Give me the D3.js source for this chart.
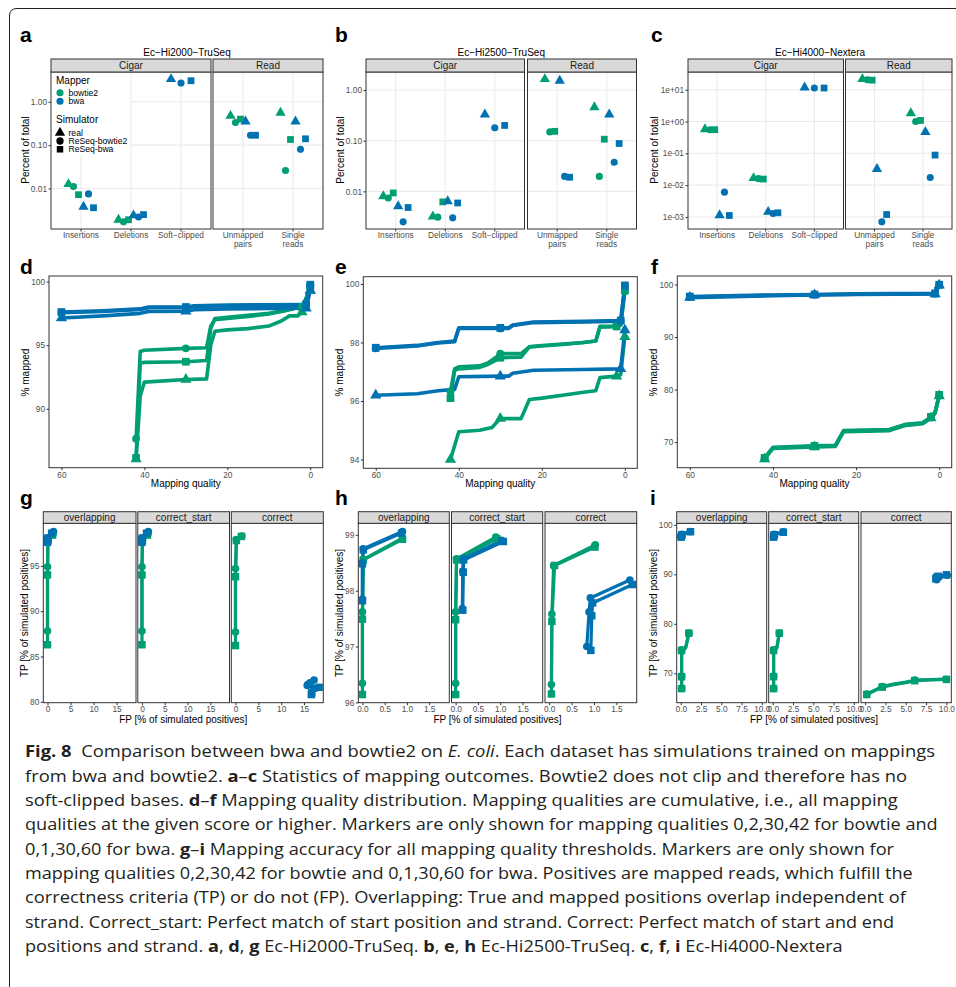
<!DOCTYPE html>
<html><head><meta charset="utf-8">
<script src="https://cdn.jsdelivr.net/npm/d3@7"></script>
<style>
body{margin:0;background:#fff}
svg text{font-family:"Liberation Sans",Arial,sans-serif}
</style>
</head><body>
<svg id="c" width="956" height="987"></svg>
<script>
// ---------------- DATA ----------------
const mappers = ["bowtie2", "bwa"];
const simulators = ["real", "ReSeq-bowtie2", "ReSeq-bwa"];
const cigarCategories = ["Insertions", "Deletions", "Soft\u2212clipped"];
const readCategories = ["Unmapped\npairs", "Single\nreads"];
const datasetTitles = ["Ec\u2212Hi2000\u2212TruSeq", "Ec\u2212Hi2500\u2212TruSeq", "Ec\u2212Hi4000\u2212Nextera"];

// rows: Insertions, Deletions, Soft-clipped, Unmapped pairs, Single reads
// cols: bowtie2/real, bowtie2/ReSeq-bowtie2, bowtie2/ReSeq-bwa, bwa/real, bwa/ReSeq-bowtie2, bwa/ReSeq-bwa
const statsHi2000 = [
  [0.0126, 0.0111, 0.0072, 0.0038, 0.0075, 0.0036],
  [0.0019, 0.0017, 0.0019, 0.0024, 0.0022, 0.0025],
  [null, null, null, 3.33, 2.7, 3.06],
  [0.473, 0.333, 0.398, 0.351, 0.169, 0.169],
  [0.56, 0.026, 0.135, 0.351, 0.08, 0.14]
];
const statsHi2500 = [
  [0.0080, 0.0074, 0.0093, 0.0051, 0.0025, 0.0048],
  [0.0032, 0.0031, 0.0062, 0.0064, 0.0030, 0.0059],
  [null, null, null, 0.33, 0.18, 0.20],
  [1.64, 0.149, 0.153, 1.52, 0.0197, 0.019],
  [0.457, 0.0197, 0.107, 0.33, 0.0375, 0.088]
];
const statsHi4000 = [
  [0.57, 0.55, 0.555, 0.00113, 0.006, 0.00111],
  [0.0166, 0.016, 0.0155, 0.00144, 0.00128, 0.00135],
  [null, null, null, 11.8, 11.3, 11.3],
  [21.5, 20.5, 20.0, 0.032, 0.0007, 0.00119],
  [1.83, 1.0, 1.08, 0.47, 0.0174, 0.088]
];
const statsTicksTruSeq = [0.01, 0.1, 1];
const statsTickLabelsTruSeq = ["0.01", "0.10", "1.00"];
const statsTicksNextera = [0.001, 0.01, 0.1, 1, 10];
const statsTickLabelsNextera = ["1e-03", "1e-02", "1e-01", "1e+00", "1e+01"];

// mapping quality distributions: [mapping quality, % mapped]
const mapqHi2000 = [
  {mapper: "bowtie2", sim: "real", pts: [[42,86.06],[41,91.0],[40,92.1],[30,92.3],[25,92.35],[24,95.0],[23,96.1],[20,96.2],[15,96.3],[10,96.5],[7,96.9],[5,97.3],[3,97.3],[2,97.6],[1,98.3],[0,99.3]]},
  {mapper: "bowtie2", sim: "ReSeq-bowtie2", pts: [[42,87.65],[41,94.5],[40,94.6],[30,94.75],[25,94.8],[24,96.5],[23,97.0],[20,97.1],[15,97.25],[10,97.45],[6,97.7],[3,97.95],[2,98.0],[1,98.6],[0,99.5]]},
  {mapper: "bowtie2", sim: "ReSeq-bwa", pts: [[42,86.14],[41,93.6],[40,93.65],[30,93.7],[25,93.8],[24,96.3],[23,97.1],[20,97.2],[15,97.35],[10,97.5],[6,97.75],[3,97.95],[2,98.0],[1,98.7],[0,99.6]]},
  {mapper: "bwa", sim: "real", pts: [[60,97.14],[50,97.3],[41,97.5],[39,97.65],[30,97.66],[28,97.78],[20,97.85],[10,97.88],[2,97.9],[1,97.9],[0,99.3]]},
  {mapper: "bwa", sim: "ReSeq-bowtie2", pts: [[60,97.55],[50,97.65],[41,97.8],[39,97.95],[30,97.95],[28,98.05],[20,98.1],[10,98.13],[2,98.15],[1,98.15],[0,99.7]]},
  {mapper: "bwa", sim: "ReSeq-bwa", pts: [[60,97.6],[50,97.7],[41,97.85],[39,98.0],[30,98.0],[28,98.1],[20,98.15],[10,98.18],[2,98.2],[1,98.2],[0,99.75]]}
];
const mapqHi2500 = [
  {mapper: "bowtie2", sim: "real", pts: [[42,94.0],[40,94.95],[35,95.0],[32,95.1],[30,95.4],[25,95.4],[23,96.05],[20,96.1],[15,96.2],[10,96.3],[7,96.35],[6,96.8],[2,96.85],[1,96.9],[0,98.2]]},
  {mapper: "bowtie2", sim: "ReSeq-bowtie2", pts: [[42,96.33],[41,97.1],[40,97.17],[35,97.2],[33,97.3],[31,97.5],[30,97.62],[25,97.62],[23,97.85],[20,97.9],[15,97.95],[10,98.0],[7,98.05],[6,98.55],[2,98.55],[1,98.6],[0,99.75]]},
  {mapper: "bowtie2", sim: "ReSeq-bwa", pts: [[42,96.1],[41,97.05],[40,97.1],[35,97.15],[33,97.25],[31,97.4],[30,97.48],[25,97.5],[23,97.85],[20,97.88],[15,97.93],[10,98.0],[7,98.05],[6,98.52],[2,98.55],[1,98.6],[0,99.78]]},
  {mapper: "bwa", sim: "real", pts: [[60,96.2],[50,96.25],[45,96.35],[41,96.4],[40,96.83],[30,96.85],[28,96.85],[27,96.95],[22,97.05],[10,97.08],[1,97.1],[0,98.43]]},
  {mapper: "bwa", sim: "ReSeq-bowtie2", pts: [[60,97.8],[50,97.88],[45,97.98],[41,98.03],[40,98.48],[30,98.48],[28,98.48],[27,98.58],[22,98.68],[10,98.7],[1,98.73],[0,99.93]]},
  {mapper: "bwa", sim: "ReSeq-bwa", pts: [[60,97.82],[50,97.9],[45,98.0],[41,98.05],[40,98.5],[30,98.5],[28,98.5],[27,98.6],[22,98.7],[10,98.72],[1,98.75],[0,99.95]]}
];
const mapqHi4000 = [
  {mapper: "bowtie2", sim: "real", pts: [[42,66.8],[40,68.8],[30,69.1],[25,69.2],[23,72.0],[12,72.2],[8,73.2],[4,73.5],[2,74.6],[1,75.5],[0,78.8]]},
  {mapper: "bowtie2", sim: "ReSeq-bowtie2", pts: [[42,66.9],[40,68.9],[30,69.2],[25,69.3],[23,72.1],[12,72.3],[8,73.3],[4,73.6],[2,74.7],[1,75.6],[0,78.9]]},
  {mapper: "bowtie2", sim: "ReSeq-bwa", pts: [[42,67.0],[40,69.0],[30,69.3],[25,69.4],[23,72.2],[12,72.4],[8,73.4],[4,73.7],[2,74.8],[1,75.7],[0,79.0]]},
  {mapper: "bwa", sim: "real", pts: [[60,97.5],[40,97.85],[30,98.0],[20,98.1],[1,98.2],[0,99.85]]},
  {mapper: "bwa", sim: "ReSeq-bowtie2", pts: [[60,97.6],[40,97.95],[30,98.05],[20,98.15],[1,98.25],[0,99.9]]},
  {mapper: "bwa", sim: "ReSeq-bwa", pts: [[60,97.7],[40,98.0],[30,98.1],[20,98.2],[1,98.3],[0,99.95]]}
];
const mapqXTicks = [60, 40, 20, 0];
const mapqYTicksHi2000 = [90, 95, 100];
const mapqYTicksHi2500 = [94, 96, 98, 100];
const mapqYTicksHi4000 = [70, 80, 90, 100];

// accuracy: [mapping quality threshold, FP %, TP %]
const accFacets = ["overlapping", "correct_start", "correct"];
const accHi2000Overlapping = [
  {mapper: "bowtie2", sim: "ReSeq-bowtie2", pts: [[42,0.0,87.8],[30,0.0,94.9],[2,0.1,97.9],[0,1.2,98.5]]},
  {mapper: "bowtie2", sim: "ReSeq-bwa", pts: [[42,0.0,86.3],[30,0.0,94.0],[2,0.1,97.8],[0,1.1,98.4]]},
  {mapper: "bwa", sim: "ReSeq-bowtie2", pts: [[60,0.0,97.9],[30,0.0,98.0],[1,0.05,98.1],[0,1.3,98.8]]},
  {mapper: "bwa", sim: "ReSeq-bwa", pts: [[60,0.0,97.6],[30,0.0,97.9],[1,0.05,98.05],[0,0.9,98.6]]}
];
const accHi2000CorrectStart = [
  {mapper: "bowtie2", sim: "ReSeq-bowtie2", pts: [[42,0.0,87.8],[30,0.0,94.9],[2,0.1,97.9],[0,1.3,98.5]]},
  {mapper: "bowtie2", sim: "ReSeq-bwa", pts: [[42,0.0,86.3],[30,0.0,94.0],[2,0.1,97.8],[0,1.2,98.4]]},
  {mapper: "bwa", sim: "ReSeq-bowtie2", pts: [[60,0.0,97.9],[30,0.0,98.0],[1,0.05,98.1],[0,1.4,98.8]]},
  {mapper: "bwa", sim: "ReSeq-bwa", pts: [[60,0.0,97.6],[30,0.0,97.9],[1,0.05,98.05],[0,1.0,98.6]]}
];
const accHi2000Correct = [
  {mapper: "bowtie2", sim: "ReSeq-bowtie2", pts: [[42,0.0,87.7],[30,0.0,94.7],[2,0.2,97.9],[0,1.4,98.3]]},
  {mapper: "bowtie2", sim: "ReSeq-bwa", pts: [[42,0.0,86.2],[30,0.0,93.8],[2,0.2,97.8],[0,1.3,98.25]]},
  {mapper: "bwa", sim: "ReSeq-bowtie2", pts: [[60,15.7,81.8],[30,15.8,81.9],[1,16.3,82.1],[0,17.2,82.4]]},
  {mapper: "bwa", sim: "ReSeq-bwa", pts: [[60,16.6,80.8],[30,16.7,81.0],[1,17.1,81.5],[0,18.3,81.6]]}
];
const accHi2500Overlapping = [
  {mapper: "bowtie2", sim: "ReSeq-bowtie2", pts: [[42,0.0,96.34],[30,0.0,97.62],[2,0.02,98.56],[0,0.9,98.94]]},
  {mapper: "bowtie2", sim: "ReSeq-bwa", pts: [[42,0.0,96.14],[30,0.0,97.49],[2,0.02,98.55],[0,0.9,98.92]]},
  {mapper: "bwa", sim: "ReSeq-bowtie2", pts: [[60,0.0,97.85],[30,0.0,98.5],[1,0.02,98.75],[0,0.9,99.06]]},
  {mapper: "bwa", sim: "ReSeq-bwa", pts: [[60,0.0,97.82],[30,0.0,98.48],[1,0.02,98.73],[0,0.88,99.03]]}
];
const accHi2500CorrectStart = [
  {mapper: "bowtie2", sim: "ReSeq-bowtie2", pts: [[42,0.0,96.34],[30,0.0,97.62],[2,0.02,98.57],[0,0.9,98.96]]},
  {mapper: "bowtie2", sim: "ReSeq-bwa", pts: [[42,0.0,96.14],[30,0.0,97.48],[2,0.02,98.55],[0,0.92,98.93]]},
  {mapper: "bwa", sim: "ReSeq-bowtie2", pts: [[60,0.15,97.68],[30,0.16,98.35],[1,0.17,98.57],[0,1.03,98.9]]},
  {mapper: "bwa", sim: "ReSeq-bwa", pts: [[60,0.16,97.65],[30,0.17,98.33],[1,0.18,98.55],[0,1.07,98.88]]}
];
const accHi2500Correct = [
  {mapper: "bowtie2", sim: "ReSeq-bowtie2", pts: [[42,0.05,96.32],[30,0.06,97.58],[2,0.1,98.45],[0,1.03,98.82]]},
  {mapper: "bowtie2", sim: "ReSeq-bwa", pts: [[42,0.05,96.15],[30,0.06,97.45],[2,0.12,98.45],[0,1.02,98.78]]},
  {mapper: "bwa", sim: "ReSeq-bowtie2", pts: [[60,0.84,97.0],[30,0.89,97.62],[1,0.92,97.87],[0,1.8,98.19]]},
  {mapper: "bwa", sim: "ReSeq-bwa", pts: [[60,0.93,96.93],[30,0.95,97.55],[1,0.97,97.78],[0,1.86,98.11]]}
];
const accHi4000Overlapping = [
  {mapper: "bowtie2", sim: "ReSeq-bowtie2", pts: [[42,0.1,66.95],[30,0.1,69.45],[2,0.1,74.73],[1,0.6,75.2],[0,1.0,78.13]]},
  {mapper: "bowtie2", sim: "ReSeq-bwa", pts: [[42,0.1,66.9],[30,0.1,69.3],[2,0.1,74.6],[1,0.6,75.1],[0,1.0,78.1]]},
  {mapper: "bwa", sim: "ReSeq-bowtie2", pts: [[60,0.0,97.64],[30,0.1,98.0],[1,0.15,98.1],[0,1.15,98.66]]},
  {mapper: "bwa", sim: "ReSeq-bwa", pts: [[60,0.05,97.5],[30,0.1,97.9],[1,0.15,98.0],[0,1.2,98.6]]}
];
const accHi4000CorrectStart = [
  {mapper: "bowtie2", sim: "ReSeq-bowtie2", pts: [[42,0.1,66.95],[30,0.1,69.45],[2,0.1,74.73],[1,0.5,75.2],[0,0.81,78.13]]},
  {mapper: "bowtie2", sim: "ReSeq-bwa", pts: [[42,0.1,66.9],[30,0.1,69.3],[2,0.1,74.6],[1,0.5,75.1],[0,0.81,78.1]]},
  {mapper: "bwa", sim: "ReSeq-bowtie2", pts: [[60,0.1,97.64],[30,0.15,98.0],[1,0.2,98.1],[0,1.3,98.6]]},
  {mapper: "bwa", sim: "ReSeq-bwa", pts: [[60,0.1,97.5],[30,0.15,97.9],[1,0.2,98.0],[0,1.3,98.5]]}
];
const accHi4000Correct = [
  {mapper: "bowtie2", sim: "ReSeq-bowtie2", pts: [[42,0.2,65.8],[30,2.1,67.3],[20,3.5,67.8],[10,5.0,68.2],[2,6.1,68.6],[1,8.0,68.7],[0,10.0,68.8]]},
  {mapper: "bowtie2", sim: "ReSeq-bwa", pts: [[42,0.2,65.7],[30,2.1,67.2],[20,3.5,67.7],[10,5.0,68.1],[2,6.1,68.5],[1,8.0,68.65],[0,10.0,68.75]]},
  {mapper: "bwa", sim: "ReSeq-bowtie2", pts: [[60,8.8,88.9],[30,8.9,89.3],[1,9.1,89.5],[0,10.1,89.8]]},
  {mapper: "bwa", sim: "ReSeq-bwa", pts: [[60,8.7,89.1],[30,8.8,89.4],[1,9.0,89.6],[0,10.0,89.9]]}
];
const accXTicksHi2000 = [0, 5, 10, 15];
const accXTicksHi2500 = [0, 0.5, 1.0, 1.5];
const accXTicksHi4000 = [0, 2.5, 5, 7.5, 10];
const accYTicksHi2000 = [80, 85, 90, 95];
const accYTicksHi2500 = [96, 97, 98, 99];
const accYTicksHi4000 = [70, 80, 90, 100];

const markerQ = {bowtie2: [0, 2, 30, 42], bwa: [0, 1, 30, 60]};

const captionLines = [
  "**Fig. 8**  Comparison between bwa and bowtie2 on //E. coli//. Each dataset has simulations trained on mappings",
  "from bwa and bowtie2. **a**\u2013**c** Statistics of mapping outcomes. Bowtie2 does not clip and therefore has no",
  "soft-clipped bases. **d**\u2013**f** Mapping quality distribution. Mapping qualities are cumulative, i.e., all mapping",
  "qualities at the given score or higher. Markers are only shown for mapping qualities 0,2,30,42 for bowtie and",
  "0,1,30,60 for bwa. **g**\u2013**i** Mapping accuracy for all mapping quality thresholds. Markers are only shown for",
  "mapping qualities 0,2,30,42 for bowtie and 0,1,30,60 for bwa. Positives are mapped reads, which fulfill the",
  "correctness criteria (TP) or do not (FP). Overlapping: True and mapped positions overlap independent of",
  "strand. Correct_start: Perfect match of start position and strand. Correct: Perfect match of start and end",
  "positions and strand. **a**, **d**, **g** Ec-Hi2000-TruSeq. **b**, **e**, **h** Ec-Hi2500-TruSeq. **c**, **f**, **i** Ec-Hi4000-Nextera"
];

// ---------------- STYLE ----------------
const colorOf = {bowtie2: "#009E73", bwa: "#0072B2"};
const shapeOf = {"real": d3.symbolTriangle, "ReSeq-bowtie2": d3.symbolCircle, "ReSeq-bwa": d3.symbolSquare};
const FONT = "'Liberation Sans', Arial, sans-serif";
const BORDER = "#333333", STRIP = "#D9D9D9", GRID = "#EBEBEB", TICKTXT = "#4D4D4D";
const TITLE_SIZE = 10, TICK_SIZE = 8.3;

const svg = d3.select("#c");
svg.append("rect").attr("width", 956).attr("height", 987).attr("fill", "#fff");
svg.append("path").attr("d", "M9.5,987 L9.5,16 Q9.5,8.5 17,8.5 L956,8.5")
  .attr("fill", "none").attr("stroke", "#231f20").attr("stroke-width", 1);

function txt(g, x, y, s, o = {}) {
  const t = g.append("text").attr("x", x).attr("y", y).text(s)
    .attr("font-size", o.size || TICK_SIZE).attr("fill", o.fill || "#000")
    .attr("text-anchor", o.anchor || "middle").attr("font-family", FONT);
  if (o.rotate) t.attr("transform", `rotate(-90,${x},${y})`);
  if (o.weight) t.attr("font-weight", o.weight);
  return t;
}
function styleAxis(ax) {
  ax.attr("font-family", FONT);
  ax.select(".domain").remove();
  ax.selectAll(".tick line").attr("stroke", BORDER);
  ax.selectAll(".tick text").attr("fill", TICKTXT).attr("font-size", TICK_SIZE);
}
function sym(sim, size) { return d3.symbol().type(shapeOf[sim]).size(size)(); }

// panel letters
[["a",20,42],["b",335,42],["c",651,42],["d",20,274],["e",335,274],["f",651,274],["g",20,505],["h",335,505],["i",650,505]]
  .forEach(([l,x,y]) => txt(svg, x, y, l, {size: 21, weight: "bold", anchor: "start"}));

// ---------------- ROW 1: statistics ----------------
function statsPanel(cfg) {
  const g = svg.append("g");
  const stripTop = 59, y0 = 72, y1 = 229;
  const logs = cfg.data.flat().filter(v => v != null).map(Math.log10);
  const [lo, hi] = d3.extent(logs), pad = (hi - lo) * 0.05;
  const y = d3.scaleLog().domain([10 ** (lo - pad), 10 ** (hi + pad)]).range([y1, y0]);
  const facets = [
    {name: "Cigar", cats: cigarCategories, range: cfg.cigar, rows: cfg.data.slice(0, 3)},
    {name: "Read", cats: readCategories, range: cfg.read, rows: cfg.data.slice(3)}
  ];
  const combos = [];
  mappers.forEach(m => simulators.forEach(s => combos.push({m, s})));
  facets.forEach(f => {
    const x = d3.scaleLinear().domain([0.4, f.cats.length + 0.6]).range(f.range);
    const [xa, xb] = f.range;
    g.append("rect").attr("x", xa).attr("y", y0).attr("width", xb - xa).attr("height", y1 - y0).attr("fill", "#fff");
    cfg.ticks.forEach(t => g.append("line").attr("x1", xa).attr("x2", xb).attr("y1", y(t)).attr("y2", y(t))
      .attr("stroke", GRID).attr("stroke-width", 1.1));
    f.cats.forEach((c, i) => g.append("line").attr("x1", x(i + 1)).attr("x2", x(i + 1)).attr("y1", y0).attr("y2", y1)
      .attr("stroke", GRID).attr("stroke-width", 1.1));
    if (cfg.legend && f.name === "Cigar") drawLegend(g);
    f.rows.forEach((row, i) => {
      const present = row.map((v, k) => ({v, k})).filter(d => d.v != null);
      const n = present.length, w = 0.6 / n;
      present.forEach((d, j) => {
        const c = combos[d.k];
        const cx = x(i + 1 + (j - (n - 1) / 2) * w), cy = y(d.v);
        const size = c.s === "real" ? 46 : (c.s === "ReSeq-bwa" ? 46 : 40);
        g.append("path").attr("d", sym(c.s, size)).attr("transform", `translate(${cx},${cy})`).attr("fill", colorOf[c.m]);
      });
    });
    g.append("rect").attr("x", xa).attr("y", y0).attr("width", xb - xa).attr("height", y1 - y0)
      .attr("fill", "none").attr("stroke", BORDER).attr("stroke-width", 1);
    g.append("rect").attr("x", xa).attr("y", stripTop).attr("width", xb - xa).attr("height", y0 - stripTop)
      .attr("fill", STRIP).attr("stroke", BORDER).attr("stroke-width", 1);
    txt(g, (xa + xb) / 2, 69.3, f.name, {size: TITLE_SIZE, fill: "#1A1A1A"});
    f.cats.forEach((c, i) => {
      c.split("\n").forEach((line, li) => txt(g, x(i + 1), 238.3 + li * 9, line, {size: TICK_SIZE, fill: TICKTXT}));
      g.append("line").attr("x1", x(i + 1)).attr("x2", x(i + 1)).attr("y1", y1).attr("y2", y1 + 2.5).attr("stroke", BORDER);
    });
  });
  const ax = g.append("g").attr("transform", `translate(${cfg.cigar[0]},0)`)
    .call(d3.axisLeft(y).tickValues(cfg.ticks).tickFormat((d, i) => cfg.tickLabels[i]).tickSize(2.5).tickPadding(1.5));
  styleAxis(ax);
  txt(g, (cfg.cigar[0] + cfg.read[1]) / 2, 55.5, cfg.title, {size: TITLE_SIZE});
  txt(g, cfg.yTitleX, 150, "Percent of total", {size: TITLE_SIZE, rotate: true});
}
function drawLegend(g) {
  g.append("rect").attr("x", 52).attr("y", 73).attr("width", 78).attr("height", 82).attr("fill", "#fff");
  txt(g, 56, 84, "Mapper", {size: TITLE_SIZE, anchor: "start"});
  mappers.forEach((m, i) => {
    g.append("path").attr("d", sym("ReSeq-bowtie2", 40)).attr("transform", `translate(60,${92.7 + i * 8.6})`).attr("fill", colorOf[m]);
    txt(g, 68.5, 95.8 + i * 8.6, m, {size: 8.6, anchor: "start"});
  });
  txt(g, 56, 123, "Simulator", {size: TITLE_SIZE, anchor: "start"});
  simulators.forEach((s, i) => {
    g.append("path").attr("d", sym(s, s === "real" ? 46 : 42)).attr("transform", `translate(60,${132.7 + i * 8.3})`).attr("fill", "#000");
    txt(g, 68.5, 135.8 + i * 8.3, s, {size: 8.6, anchor: "start"});
  });
}
statsPanel({title: datasetTitles[0], data: statsHi2000, cigar: [51, 211], read: [213, 323], ticks: statsTicksTruSeq, tickLabels: statsTickLabelsTruSeq, yTitleX: 29, legend: true});
statsPanel({title: datasetTitles[1], data: statsHi2500, cigar: [366, 524.5], read: [527.5, 636.5], ticks: statsTicksTruSeq, tickLabels: statsTickLabelsTruSeq, yTitleX: 344});
statsPanel({title: datasetTitles[2], data: statsHi4000, cigar: [688, 843.5], read: [845.5, 952], ticks: statsTicksNextera, tickLabels: statsTickLabelsNextera, yTitleX: 658});

// ---------------- ROW 2: mapping quality ----------------
function mapqPanel(cfg) {
  const g = svg.append("g");
  const [xa, xb] = cfg.x, [ya, yb] = cfg.y;
  const allPts = cfg.series.flatMap(s => s.pts);
  const qe = d3.extent(allPts, d => d[0]), ve = d3.extent(allPts, d => d[1]);
  const qp = (qe[1] - qe[0]) * 0.05, vp = (ve[1] - ve[0]) * 0.05;
  const x = d3.scaleLinear().domain([qe[1] + qp, qe[0] - qp]).range([xa, xb]);
  const y = d3.scaleLinear().domain([ve[0] - vp, ve[1] + vp]).range([yb, ya]);
  g.append("rect").attr("x", xa).attr("y", ya).attr("width", xb - xa).attr("height", yb - ya).attr("fill", "#fff");
  const line = d3.line().x(d => x(d[0])).y(d => y(d[1]));
  const ordered = [...cfg.series].sort((a, b) => (a.mapper === "bwa") - (b.mapper === "bwa"));
  ordered.forEach(s => g.append("path").attr("d", line(s.pts)).attr("fill", "none")
    .attr("stroke", colorOf[s.mapper]).attr("stroke-width", 3.6).attr("stroke-linejoin", "round").attr("stroke-linecap", "round"));
  ordered.forEach(s => s.pts.filter(p => markerQ[s.mapper].includes(p[0])).forEach(p => {
    const size = s.sim === "ReSeq-bwa" ? 60 : (s.sim === "real" ? 55 : 48);
    g.append("path").attr("d", sym(s.sim, size)).attr("transform", `translate(${x(p[0])},${y(p[1])})`).attr("fill", colorOf[s.mapper]);
  }));
  g.append("rect").attr("x", xa).attr("y", ya).attr("width", xb - xa).attr("height", yb - ya)
    .attr("fill", "none").attr("stroke", BORDER).attr("stroke-width", 1);
  const axX = g.append("g").attr("transform", `translate(0,${yb})`)
    .call(d3.axisBottom(x).tickValues(mapqXTicks).tickFormat(d3.format("d")).tickSize(2.5).tickPadding(1.5));
  styleAxis(axX);
  const axY = g.append("g").attr("transform", `translate(${xa},0)`)
    .call(d3.axisLeft(y).tickValues(cfg.yTicks).tickFormat(d3.format("d")).tickSize(2.5).tickPadding(1.5));
  styleAxis(axY);
  txt(g, (xa + xb) / 2, 486.5, "Mapping quality", {size: TITLE_SIZE});
  txt(g, cfg.yTitleX, 372.5, "% mapped", {size: TITLE_SIZE, rotate: true});
}
mapqPanel({series: mapqHi2000, x: [49, 322.7], y: [276, 467.7], yTicks: mapqYTicksHi2000, yTitleX: 28.5});
mapqPanel({series: mapqHi2500, x: [363.3, 637.3], y: [276.7, 468.3], yTicks: mapqYTicksHi2500, yTitleX: 342.5});
mapqPanel({series: mapqHi4000, x: [677.3, 951.7], y: [276, 467.7], yTicks: mapqYTicksHi4000, yTitleX: 657});

// ---------------- ROW 3: accuracy ----------------
function accPanel(cfg) {
  const g = svg.append("g");
  const stripTop = 511.7, ya = 523.3, yb = 702.7;
  const allPts = cfg.facetData.flat().flatMap(s => s.pts);
  const xe = d3.extent(allPts, d => d[1]), ye = d3.extent(allPts, d => d[2]);
  const xp = (xe[1] - xe[0]) * 0.05, yp = (ye[1] - ye[0]) * 0.05;
  const y = d3.scaleLinear().domain([ye[0] - yp, ye[1] + yp]).range([yb, ya]);
  cfg.facetData.forEach((series, fi) => {
    const [xa, xb] = cfg.facetX[fi];
    const x = d3.scaleLinear().domain([xe[0] - xp, xe[1] + xp]).range([xa, xb]);
    g.append("rect").attr("x", xa).attr("y", ya).attr("width", xb - xa).attr("height", yb - ya).attr("fill", "#fff");
    const line = d3.line().x(d => x(d[1])).y(d => y(d[2]));
    series.forEach(s => g.append("path").attr("d", line(s.pts)).attr("fill", "none")
      .attr("stroke", colorOf[s.mapper]).attr("stroke-width", 3.2).attr("stroke-linejoin", "round").attr("stroke-linecap", "round"));
    series.forEach(s => s.pts.filter(p => markerQ[s.mapper].includes(p[0])).forEach(p => {
      const size = s.sim === "ReSeq-bwa" ? 56 : 46;
      g.append("path").attr("d", sym(s.sim, size)).attr("transform", `translate(${x(p[1])},${y(p[2])})`).attr("fill", colorOf[s.mapper]);
    }));
    g.append("rect").attr("x", xa).attr("y", ya).attr("width", xb - xa).attr("height", yb - ya)
      .attr("fill", "none").attr("stroke", BORDER).attr("stroke-width", 1);
    g.append("rect").attr("x", xa).attr("y", stripTop).attr("width", xb - xa).attr("height", ya - stripTop)
      .attr("fill", STRIP).attr("stroke", BORDER).attr("stroke-width", 1);
    txt(g, (xa + xb) / 2, 520.8, accFacets[fi], {size: TITLE_SIZE, fill: "#1A1A1A"});
    const axX = g.append("g").attr("transform", `translate(0,${yb})`)
      .call(d3.axisBottom(x).tickValues(cfg.xTicks).tickFormat(cfg.xFmt).tickSize(2.5).tickPadding(1));
    styleAxis(axX);
    if (fi === 0) {
      const axY = g.append("g").attr("transform", `translate(${xa},0)`)
        .call(d3.axisLeft(y).tickValues(cfg.yTicks).tickFormat(d3.format("d")).tickSize(2.5).tickPadding(1.5));
      styleAxis(axY);
    }
  });
  const cx = (cfg.facetX[0][0] + cfg.facetX[2][1]) / 2;
  txt(g, cx, 722.5, "FP [% of simulated positives]", {size: TITLE_SIZE});
  txt(g, cfg.yTitleX, 613, "TP [% of simulated positives]", {size: TITLE_SIZE, rotate: true});
}
accPanel({facetData: [accHi2000Overlapping, accHi2000CorrectStart, accHi2000Correct],
  facetX: [[43.3, 136], [137.8, 229.5], [231.3, 323.3]], xTicks: accXTicksHi2000, xFmt: d3.format("d"), yTicks: accYTicksHi2000, yTitleX: 28});
accPanel({facetData: [accHi2500Overlapping, accHi2500CorrectStart, accHi2500Correct],
  facetX: [[358.3, 449.3], [451.5, 542.7], [545, 636.7]], xTicks: accXTicksHi2500, xFmt: d3.format(".1f"), yTicks: accYTicksHi2500, yTitleX: 343});
accPanel({facetData: [accHi4000Overlapping, accHi4000CorrectStart, accHi4000Correct],
  facetX: [[676.7, 766.7], [768.7, 858.7], [861, 951.3]], xTicks: accXTicksHi4000, xFmt: d3.format(".1f"), yTicks: accYTicksHi4000, yTitleX: 656.5});

// ---------------- CAPTION ----------------
const captionRight = [935, 907, 897.7, 937.7, 894, 912.7, 906, 894, 842.7];
captionLines.forEach((ln, i) => {
  const t = svg.append("text").attr("x", 25).attr("y", 757.3 + i * 24.33)
    .attr("font-size", 16).attr("fill", "#231F20").style("font-family", "'Open Sans', 'Noto Sans', sans-serif")
    .style("white-space", "pre");
  ln.split(/(\*\*[^*]+\*\*|\/\/[^/]+\/\/)/).filter(s => s.length).forEach(seg => {
    const ts = t.append("tspan");
    if (seg.startsWith("**")) ts.text(seg.slice(2, -2)).attr("font-weight", "bold");
    else if (seg.startsWith("//")) ts.text(seg.slice(2, -2)).attr("font-style", "italic");
    else ts.text(seg);
  });
  t.attr("textLength", captionRight[i] - 25).attr("lengthAdjust", "spacingAndGlyphs");
});
</script>
</body></html>
